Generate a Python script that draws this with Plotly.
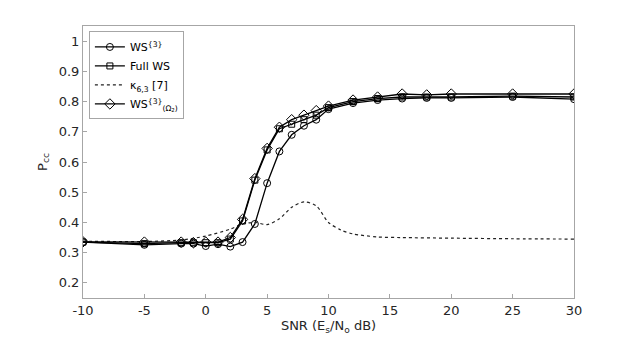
import plotly.graph_objects as go

# ── Data ──────────────────────────────────────────────────────────────────────
snr = [-10, -5, -2, -1, 0, 1, 2, 3, 4, 5, 6, 7, 8, 9, 10, 12, 14, 16, 18, 20, 25, 30]

ws3 = [0.335, 0.326, 0.330, 0.330, 0.322, 0.328, 0.320, 0.335, 0.395, 0.530,
       0.635, 0.690, 0.720, 0.740, 0.775, 0.795, 0.805, 0.810, 0.812, 0.812, 0.815, 0.808]
full_ws = [0.335, 0.330, 0.333, 0.333, 0.333, 0.333, 0.345, 0.405, 0.540, 0.640,
           0.710, 0.725, 0.740, 0.755, 0.780, 0.800, 0.810, 0.815, 0.815, 0.815, 0.818, 0.815]
ws_omega = [0.336, 0.335, 0.335, 0.333, 0.335, 0.335, 0.350, 0.410, 0.545, 0.645,
            0.715, 0.740, 0.755, 0.770, 0.785, 0.805, 0.815, 0.825, 0.822, 0.825, 0.825, 0.825]

kappa_snr = [-10, -5, -2, 0, 2, 3, 4, 5, 6, 7, 8, 9, 10, 11, 12, 14, 16, 20, 25, 30]
kappa = [0.338, 0.337, 0.342, 0.355, 0.378, 0.395, 0.400, 0.393, 0.412, 0.450,
         0.468, 0.455, 0.400, 0.375, 0.362, 0.352, 0.350, 0.348, 0.346, 0.345]

x_ticks = [-10, -5, 0, 5, 10, 15, 20, 25, 30]
x_labels = ["-10", "-5", "0", "5", "10", "15", "20", "25", "30"]
y_ticks = [0.2, 0.3, 0.4, 0.5, 0.6, 0.7, 0.8, 0.9, 1]
y_labels = ["0.2", "0.3", "0.4", "0.5", "0.6", "0.7", "0.8", "0.9", "1"]

# ── Plot ──────────────────────────────────────────────────────────────────────
fig = go.Figure()

line = dict(color="black", width=1.3)

fig.add_trace(go.Scatter(
    x=snr, y=ws3, mode="lines+markers", name="WS<sup>{3}</sup>",
    line=line,
    marker=dict(symbol="circle-open", size=7, color="black", line=dict(width=1)),
))
fig.add_trace(go.Scatter(
    x=snr, y=full_ws, mode="lines+markers", name="Full WS",
    line=line,
    marker=dict(symbol="square-open", size=6, color="black", line=dict(width=1)),
))
fig.add_trace(go.Scatter(
    x=kappa_snr, y=kappa, mode="lines", name="κ<sub>6,3</sub> [7]",
    line=dict(color="#222222", width=1.2, dash="3px,3px", shape="spline", smoothing=0.8),
))
fig.add_trace(go.Scatter(
    x=snr, y=ws_omega, mode="lines+markers", name="WS<sup>{3}</sup><sub>(Ω<sub>2</sub>)</sub>",
    line=line,
    marker=dict(symbol="diamond-open", size=8, color="black", line=dict(width=1)),
))

axis_common = dict(
    showline=True, linecolor="#a6a6a6", linewidth=1, mirror=True,
    ticks="inside", ticklen=4, tickcolor="#a6a6a6",
    showgrid=False, zeroline=False,
    tickfont=dict(size=13, color="#262626"),
)

# page body has an 8px margin, so the figure is sized to fit inside the window
fig.update_layout(
    width=630, height=336,
    margin=dict(l=75, r=64, t=18, b=46),
    plot_bgcolor="white", paper_bgcolor="white",
    font=dict(family="DejaVu Sans", color="#262626", size=13),
    xaxis=dict(range=[-10, 30], tickvals=x_ticks, ticktext=x_labels,
               title=dict(text="SNR (E<sub>s</sub>/N<sub>o</sub> dB)", font=dict(size=13), standoff=4),
               **axis_common),
    yaxis=dict(range=[0.15, 1.05], tickvals=y_ticks, ticktext=y_labels,
               title=dict(text="P<sub>cc</sub>", font=dict(size=13), standoff=8),
               **axis_common),
    legend=dict(
        x=0.012, y=0.98, xanchor="left", yanchor="top",
        bgcolor="white", bordercolor="#a6a6a6", borderwidth=1,
        font=dict(size=11, color="black"),
        itemwidth=30, tracegroupgap=0,
    ),
    showlegend=True,
)

fig.write_html("out.html")
